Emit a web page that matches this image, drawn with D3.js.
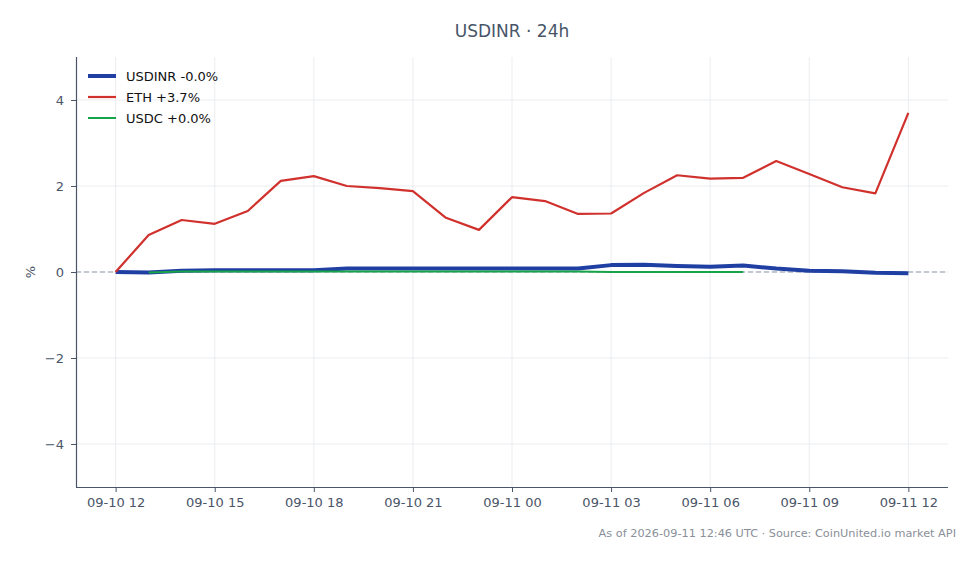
<!doctype html>
<html lang="en">
<head>
  <meta charset="UTF-8">
  <title>USDINR 24h</title>
  <script src="https://cdn.jsdelivr.net/npm/d3@7"></script>
  <style>
    body { margin: 0; background: #fff; }
    svg { font-family: "DejaVu Sans", sans-serif; }
  </style>
</head>
<body>
  <script>

    // hourly samples, 2026-09-10 12:00 UTC -> 2026-09-11 12:00 UTC
    var startTime = new Date(Date.UTC(2026, 8, 10, 12))
      , endTime = new Date(Date.UTC(2026, 8, 11, 12))
      ;

    var usdinr = [0.00, -0.01, 0.03, 0.04, 0.04, 0.04, 0.04, 0.08, 0.08, 0.08,
                  0.08, 0.08, 0.08, 0.08, 0.08, 0.16, 0.17, 0.14, 0.12, 0.15,
                  0.08, 0.03, 0.02, -0.02, -0.03];
    var eth = [0.00, 0.86, 1.21, 1.12, 1.42, 2.12, 2.23, 2.00, 1.95, 1.88,
               1.26, 0.98, 1.74, 1.65, 1.35, 1.36, 1.84, 2.25, 2.17, 2.19,
               2.58, 2.28, 1.97, 1.83, 3.70];
    // USDC has no sample at the first hour and stops at 07:00
    var usdc = [null, -0.01, 0.01, 0.01, 0.01, 0.01, 0.01, 0.01, 0.01, 0.01,
                0.01, 0.01, 0.01, 0.01, 0.01, 0.00, 0.00, 0.00, 0.00, 0.00];

    var yTicks = [-4, -2, 0, 2, 4];

    var series = [
      { name: "USDINR -0.0%", values: usdinr, color: "#1f3fa3", width: 4 },
      { name: "ETH +3.7%", values: eth, color: "#d0312d", width: 2.2 },
      { name: "USDC +0.0%", values: usdc, color: "#16a34a", width: 2 }
    ];

    var times = d3.utcHour.range(startTime, d3.utcHour.offset(endTime, 1));

    var width = 980
      , height = 564
      , margin = { top: 57, right: 32, bottom: 77, left: 76 }
      ;

    var pad = 1.2 * 3600 * 1000;

    var x = d3.scaleUtc()
              .domain([new Date(+startTime - pad), new Date(+endTime + pad)])
              .range([margin.left, width - margin.right]);

    var y = d3.scaleLinear()
              .domain([-5, 5])
              .range([height - margin.bottom, margin.top]);

    var svg = d3.select("body").append("svg")
                .attr("width", width)
                .attr("height", height);

    var xTicks = x.ticks(d3.utcHour.every(3));

    // grid
    svg.append("g")
       .selectAll("line")
       .data(xTicks)
       .enter()
       .append("line")
       .attr("x1", function(d) { return x(d); })
       .attr("x2", function(d) { return x(d); })
       .attr("y1", margin.top)
       .attr("y2", height - margin.bottom)
       .attr("stroke", "#e6e8ec")
       .attr("stroke-width", 0.8);

    svg.append("g")
       .selectAll("line")
       .data(yTicks)
       .enter()
       .append("line")
       .attr("x1", margin.left)
       .attr("x2", width - margin.right)
       .attr("y1", function(d) { return y(d); })
       .attr("y2", function(d) { return y(d); })
       .attr("stroke", "#e6e8ec")
       .attr("stroke-width", 0.8);

    // zero reference
    svg.append("line")
       .attr("x1", margin.left)
       .attr("x2", width - margin.right)
       .attr("y1", y(0))
       .attr("y2", y(0))
       .attr("stroke", "#8f98aa")
       .attr("stroke-width", 1)
       .attr("stroke-dasharray", "5,3");

    // axes
    var xAxis = svg.append("g")
                   .attr("transform", "translate(0," + (height - margin.bottom) + ")")
                   .call(d3.axisBottom(x)
                           .tickValues(xTicks)
                           .tickSize(5)
                           .tickPadding(6)
                           .tickFormat(d3.utcFormat("%m-%d %H")));

    var yAxis = svg.append("g")
                   .attr("transform", "translate(" + margin.left + ",0)")
                   .call(d3.axisLeft(y)
                           .tickValues(yTicks)
                           .tickSize(5)
                           .tickPadding(7)
                           .tickFormat(function(d) { return d < 0 ? "\u2212" + Math.abs(d) : d; }));

    [xAxis, yAxis].forEach(function(g) {
      g.selectAll("path").attr("stroke", "#4a5568").attr("stroke-width", 1.2);
      g.selectAll("line").attr("stroke", "#4a5568");
      g.selectAll("text").attr("fill", "#4a5568").style("font-size", "13px");
      g.attr("font-family", null);
    });
    // trim the domain path so it has no end ticks
    xAxis.select("path").attr("d", "M" + margin.left + ",0.5H" + (width - margin.right));
    yAxis.select("path").attr("d", "M0.5," + margin.top + "V" + (height - margin.bottom));

    // lines
    var line = d3.line()
                 .defined(function(d) { return d != null; })
                 .x(function(d, i) { return x(times[i]); })
                 .y(function(d) { return y(d); });

    svg.append("g")
       .selectAll("path")
       .data(series)
       .enter()
       .append("path")
       .attr("d", function(d) { return line(d.values); })
       .attr("fill", "none")
       .attr("stroke", function(d) { return d.color; })
       .attr("stroke-width", function(d) { return d.width; })
       .attr("stroke-linejoin", "round");

    // legend
    var legend = svg.append("g")
                    .selectAll("g")
                    .data(series)
                    .enter()
                    .append("g")
                    .attr("transform", function(d, i) { return "translate(88," + (76 + i * 21) + ")"; });

    legend.append("line")
          .attr("x1", 0)
          .attr("x2", 28)
          .attr("stroke", function(d) { return d.color; })
          .attr("stroke-width", function(d) { return d.width; });

    legend.append("text")
          .attr("x", 38)
          .attr("dy", "0.35em")
          .style("font-size", "13px")
          .attr("fill", "#111")
          .text(function(d) { return d.name; });

    // titles
    svg.append("text")
       .attr("x", (margin.left + width - margin.right) / 2)
       .attr("y", 37)
       .attr("text-anchor", "middle")
       .style("font-size", "17px")
       .attr("fill", "#475569")
       .text("USDINR \u00b7 24h");

    svg.append("text")
       .attr("transform", "translate(35," + y(0) + ") rotate(-90)")
       .attr("text-anchor", "middle")
       .style("font-size", "13px")
       .attr("fill", "#4a5568")
       .text("%");

    svg.append("text")
       .attr("x", 956)
       .attr("y", 537)
       .attr("text-anchor", "end")
       .style("font-size", "11.3px")
       .attr("fill", "#8a8f99")
       .text("As of 2026-09-11 12:46 UTC \u00b7 Source: CoinUnited.io market API");

  </script>
</body>
</html>
